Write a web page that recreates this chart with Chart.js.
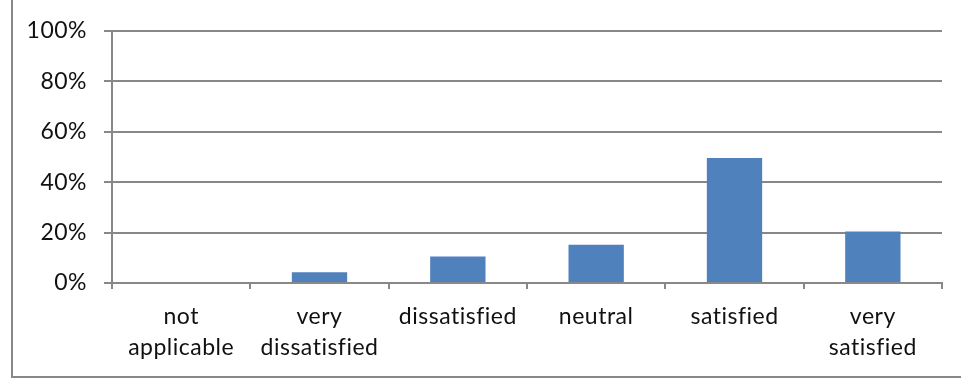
<!DOCTYPE html>
<html>
<head>
<meta charset="utf-8">
<script src="https://cdn.jsdelivr.net/npm/chart.js@4/dist/chart.umd.min.js"></script>
<style>
  html, body { margin: 0; padding: 0; background: #fff; }
  #wrap { position: relative; width: 961px; height: 381px; overflow: hidden; }
  #frame { position: absolute; left: 11px; top: -10px; width: 1000px; height: 388px;
           border-left: 2px solid #888; border-bottom: 2px solid #888; box-sizing: border-box; }
  canvas { position: absolute; left: 0; top: 0; }
</style>
</head>
<body>
<div id="wrap">
  <div id="frame"></div>
  <canvas id="graphic" width="961" height="381"></canvas>
</div>
<script>
const categories = [
  ["not", "applicable"],
  ["very", "dissatisfied"],
  "dissatisfied",
  "neutral",
  "satisfied",
  ["very", "satisfied"]
];
const shares = [0, 4.3, 10.5, 15.2, 49.6, 20.4];
const yTicks = [0, 20, 40, 60, 80, 100];

const gridColor = "#888888";
const font = { family: "Lato", size: 23 };

// a little tracking on all text, which also keeps "fi" from joining up.
// resizing the canvas resets the context, so set it again before layout and draw
const spacing = {
  id: "spacing",
  beforeLayout(chart) { chart.ctx.letterSpacing = "0.5px"; },
  beforeDraw(chart) { chart.ctx.letterSpacing = "0.5px"; }
};

const ctx = document.getElementById("graphic");

const chart = new Chart(ctx, {
  type: "bar",
  data: {
    labels: categories,
    datasets: [{
      data: shares,
      backgroundColor: "#4F81BD",
      barPercentage: 0.4,
      categoryPercentage: 1
    }]
  },
  options: {
    responsive: false,
    animation: false,
    layout: { padding: { top: 27, right: 19, left: 0, bottom: 0 } },
    plugins: { legend: { display: false }, tooltip: { enabled: false } },
    scales: {
      x: {
        offset: true,
        grid: { offset: true, drawOnChartArea: false, color: gridColor, lineWidth: 2, tickLength: 6 },
        border: { color: gridColor, width: 2 },
        ticks: { color: "#111", font: { ...font, lineHeight: 1.35 }, padding: 12, maxRotation: 0, autoSkip: false },
        afterFit: (scale) => { scale.height = 98; }
      },
      y: {
        min: 0,
        max: 100,
        afterBuildTicks: (scale) => { scale.ticks = yTicks.map(v => ({ value: v })); },
        grid: { color: gridColor, lineWidth: 2, tickLength: 8 },
        border: { color: gridColor, width: 2 },
        ticks: { color: "#111", font: font, padding: 17, callback: (v) => v + "%" },
        afterFit: (scale) => { scale.width = 112; }
      }
    }
  },
  plugins: [spacing]
});
</script>
</body>
</html>
